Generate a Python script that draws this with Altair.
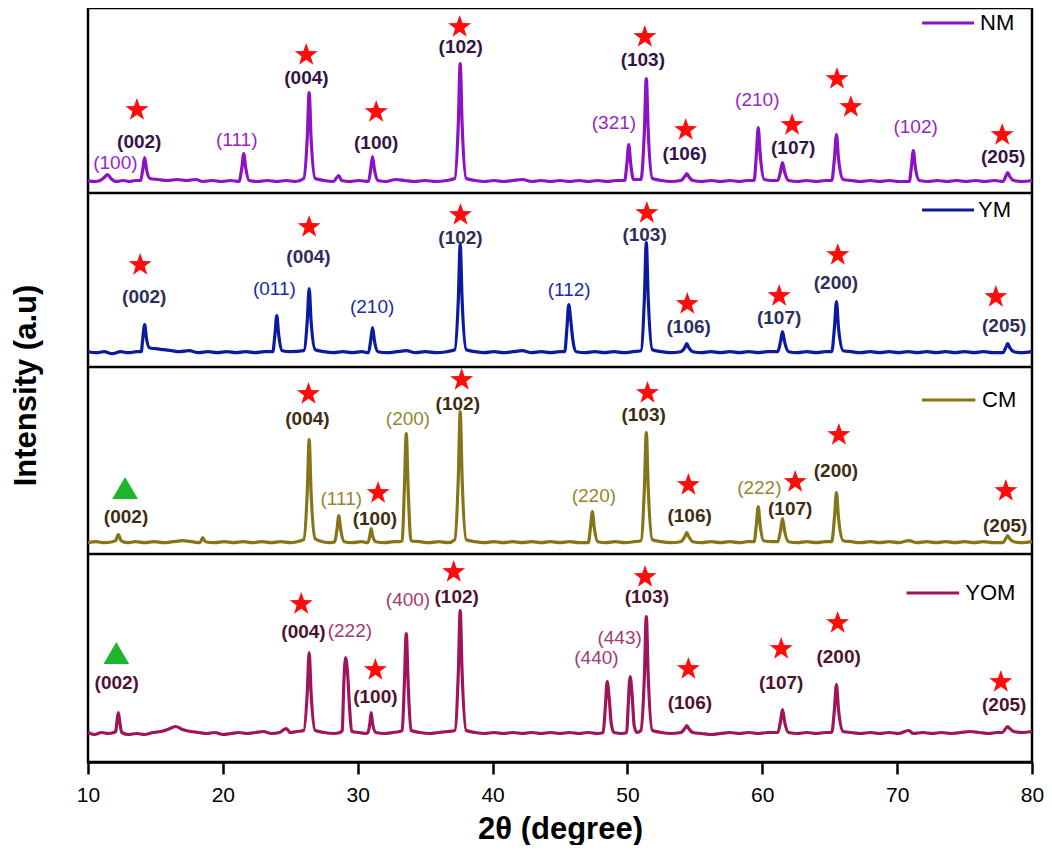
import altair as alt
import pandas as pd

# ---------------- data ----------------
SERIES = ["NM", "YM", "CM", "YOM"]

# vertical offset of each pattern (stacked plot)
OFFSET = {"NM": 580.5, "YM": 409.3, "CM": 219.3, "YOM": 28.5}

# (2theta, intensity a.u.) points of each XRD pattern
NM_PTS = [
    (10.0, 1), (10.5, 0), (10.9, 1), (11.2, 4), (11.45, 7), (11.7, 3), (12.1, 0), (12.6, 1), (13.1, 0), (13.5, 1),
    (13.9, 1), (14.06, 12), (14.2, 24), (14.34, 12), (14.6, 3), (15.2, 2), (15.9, 1), (16.6, 2), (17.3, 1), (18.0, 2),
    (18.5, 0), (19.2, 1), (19.9, 0), (20.6, 1),
    (21.2, 0), (21.41, 14), (21.55, 28), (21.69, 14), (21.95, 1), (22.6, 0), (23.3, 1), (24.0, 0), (24.7, 1), (25.4, 0),
    (26.0, 3), (26.26, 44), (26.4, 89), (26.54, 44), (26.85, 3), (27.5, 1), (28.2, 0), (28.45, 4), (28.6, 6), (28.8, 1),
    (29.4, 0), (30.1, 1),
    (30.8, 0), (30.96, 12), (31.1, 25), (31.24, 12), (31.5, 1), (32.1, 0), (32.8, 2), (33.5, 1), (34.2, 0), (35.0, 1),
    (35.8, 0), (36.6, 1),
    (37.2, 3), (37.46, 58), (37.6, 118), (37.74, 58), (38.05, 3), (38.7, 1), (39.4, 0), (40.1, 1), (40.8, 0), (41.5, 1),
    (42.2, 2), (42.9, 0), (43.6, 1), (44.3, 0), (45.0, 1), (45.7, 0), (46.4, 1), (47.1, 0), (47.8, 1), (48.5, 0), (49.2, 1),
    (49.8, 1), (49.96, 18), (50.1, 37), (50.24, 18), (50.45, 2),
    (51.0, 2), (51.26, 51), (51.4, 103), (51.54, 51), (51.85, 3), (52.5, 1), (53.2, 0),
    (53.95, 1), (54.25, 5), (54.4, 8), (54.55, 5), (54.85, 1), (55.5, 0), (56.2, 1), (56.9, 0), (57.6, 1), (58.3, 0), (58.9, 1),
    (59.4, 1), (59.56, 27), (59.7, 54), (59.84, 28), (60.15, 2), (60.7, 1),
    (61.15, 1), (61.35, 10), (61.5, 19), (61.65, 10), (61.95, 1), (62.6, 0), (63.3, 1), (64.0, 0), (64.7, 1),
    (65.15, 1), (65.35, 23), (65.5, 47), (65.65, 23), (66.0, 2), (66.6, 1), (67.3, 0), (68.0, 1), (68.7, 0), (69.4, 1), (70.1, 0),
    (70.9, 0), (71.06, 15), (71.2, 31), (71.34, 15), (71.65, 1), (72.3, 0), (73.0, 1), (73.7, 0), (74.4, 1), (75.1, 0),
    (75.8, 1), (76.5, 0), (77.2, 1),
    (77.85, 0), (78.05, 5), (78.2, 9), (78.35, 5), (78.65, 1), (79.3, 0), (80.0, 1),
]

YM_PTS = [
    (10.0, 1), (10.6, 0), (11.2, 1), (11.8, -1), (12.4, 1), (13.0, 0), (13.6, 1),
    (13.95, 1), (14.06, 14), (14.2, 28), (14.34, 14), (14.55, 5), (15.0, 4), (15.6, 3), (16.2, 2), (16.8, 1), (17.5, 2),
    (18.2, 0), (18.9, 1), (19.6, 0), (20.3, 1), (21.0, 0), (21.7, 1), (22.4, 0), (23.1, 1),
    (23.7, 1), (23.86, 18), (24.0, 37), (24.14, 18), (24.4, 2), (25.0, 1),
    (26.0, 2), (26.26, 32), (26.4, 64), (26.54, 32), (26.85, 3), (27.5, 1), (28.2, 0), (28.9, 1), (29.6, 0), (30.3, 1),
    (30.8, 0), (30.96, 12), (31.1, 25), (31.24, 12), (31.5, 1), (32.2, 0), (32.9, 1), (33.6, 2), (34.3, 0), (35.0, 1),
    (35.8, 0), (36.6, 1),
    (37.2, 3), (37.46, 53), (37.6, 108), (37.74, 53), (38.05, 3), (38.7, 1), (39.4, 0), (40.1, 1), (40.8, 0), (41.5, 1),
    (42.2, 2), (42.9, 0), (43.6, 1), (44.3, 0), (45.0, 1),
    (45.35, 1), (45.51, 24), (45.65, 48), (45.8, 32), (45.95, 13), (46.2, 1), (46.9, 0), (47.6, 1), (48.3, 0), (49.0, 1),
    (49.7, 0), (50.4, 1),
    (51.0, 2), (51.26, 55), (51.4, 110), (51.54, 55), (51.85, 3), (52.5, 1), (53.2, 0),
    (53.95, 1), (54.25, 5), (54.4, 9), (54.55, 5), (54.85, 1), (55.5, 0), (56.2, 1), (56.9, 0), (57.6, 1), (58.3, 0),
    (59.0, 1), (59.7, 0), (60.4, 1),
    (61.15, 1), (61.35, 11), (61.5, 21), (61.65, 11), (61.95, 1), (62.6, 0), (63.3, 1), (64.0, 0), (64.7, 1),
    (65.15, 1), (65.35, 25), (65.5, 51), (65.65, 25), (66.0, 2), (66.6, 1), (67.3, 0), (68.0, 1), (68.7, 0), (69.4, 1),
    (70.1, 0), (70.8, 1), (71.5, 0), (72.2, 1), (72.9, 0), (73.6, 1), (74.3, 0), (75.0, 1), (75.7, 0), (76.4, 1), (77.1, 0),
    (77.85, 0), (78.05, 5), (78.2, 9), (78.35, 5), (78.65, 1), (79.3, 0), (80.0, 1),
]

CM_PTS = [
    (10.0, 0), (10.6, 1), (11.2, 0), (11.8, 1), (12.05, 2), (12.25, 8), (12.45, 2), (12.9, 0), (13.5, 1), (14.2, 0),
    (14.9, 1), (15.6, 0), (16.3, 1), (17.0, 2), (17.7, 1), (18.3, 0), (18.5, 5), (18.7, 1), (19.4, 0), (20.1, 1),
    (20.8, 0), (21.5, 1), (22.2, 0), (22.9, 1), (23.6, 0), (24.3, 1), (25.0, 0), (25.5, 1),
    (26.0, 3), (26.26, 51), (26.4, 103), (26.54, 51), (26.85, 4), (27.4, 1), (28.0, 0),
    (28.3, 1), (28.46, 13), (28.6, 27), (28.74, 13), (29.0, 1), (29.6, 0), (30.3, 1),
    (30.75, 0), (30.9, 7), (31.0, 14), (31.1, 7), (31.35, 1), (32.0, 0), (32.7, 1), (33.1, 1),
    (33.3, 2), (33.46, 54), (33.6, 109), (33.74, 54), (33.95, 2), (34.6, 1), (35.3, 0), (36.0, 1), (36.7, 0),
    (37.2, 3), (37.46, 65), (37.6, 131), (37.74, 65), (38.05, 3), (38.7, 1), (39.4, 0), (40.1, 1), (40.8, 0), (41.5, 1),
    (42.2, 0), (42.9, 1), (43.6, 0), (44.3, 1), (45.0, 0), (45.7, 1), (46.4, 0),
    (47.1, 0), (47.26, 15), (47.4, 31), (47.54, 15), (47.8, 1), (48.4, 0), (49.1, 1), (49.8, 0), (50.5, 1),
    (51.0, 2), (51.26, 55), (51.4, 110), (51.54, 55), (51.85, 3), (52.5, 1), (53.2, 0),
    (53.95, 1), (54.25, 6), (54.4, 10), (54.55, 6), (54.85, 1), (55.5, 0), (56.2, 1), (56.9, 0), (57.6, 1), (58.3, 0), (58.9, 1),
    (59.4, 1), (59.56, 18), (59.7, 36), (59.84, 18), (60.1, 2), (60.7, 1),
    (61.15, 1), (61.35, 12), (61.5, 24), (61.65, 12), (61.95, 1), (62.6, 0), (63.3, 1), (64.0, 0), (64.7, 1),
    (65.15, 1), (65.35, 25), (65.5, 50), (65.65, 25), (66.0, 2), (66.6, 1), (67.3, 0), (68.0, 1), (68.7, 0), (69.4, 1),
    (70.1, 0), (70.85, 2), (71.5, 0), (72.2, 1), (72.9, 0), (73.6, 1), (74.3, 0), (75.0, 1), (75.7, 0), (76.4, 1), (77.1, 0),
    (77.85, 0), (78.05, 4), (78.2, 7), (78.35, 4), (78.65, 1), (79.3, 0), (80.0, 1),
]

YOM_PTS = [
    (10.0, 1), (10.5, -1), (11.0, 1), (11.5, 0), (11.9, 1),
    (12.05, 2), (12.15, 12), (12.25, 21), (12.35, 12), (12.5, 1), (13.0, -1), (13.6, 0), (14.2, -1), (14.8, 1),
    (15.4, 2), (15.9, 4), (16.5, 7), (17.0, 4), (17.6, 2), (18.2, 1), (18.8, 0), (19.4, 1), (20.0, -1), (20.6, 0),
    (21.2, 1), (21.8, 0), (22.4, 1), (23.0, 2), (23.6, 0), (24.2, 1), (24.7, 5), (25.0, 1), (25.5, 2),
    (26.0, 3), (26.26, 41), (26.4, 81), (26.54, 41), (26.85, 3), (27.5, 1), (28.2, 0), (28.7, 1),
    (28.85, 3), (28.97, 50), (29.1, 76), (29.25, 60), (29.4, 25), (29.55, 2), (30.1, 1), (30.6, 0),
    (30.75, 1), (30.9, 10), (31.0, 21), (31.1, 10), (31.35, 1), (32.0, 0), (32.6, 1), (33.1, 2),
    (33.3, 3), (33.46, 50), (33.6, 100), (33.74, 50), (33.95, 3), (34.6, 1), (35.3, 0), (36.0, 1), (36.7, 2),
    (37.2, 3), (37.46, 61), (37.6, 123), (37.74, 61), (38.05, 3), (38.7, 1), (39.4, 0), (40.1, 1), (40.8, 0), (41.5, 1),
    (42.2, 0), (42.9, 1), (43.6, 0), (44.3, 1), (45.0, 0), (45.7, 1), (46.4, 0), (47.1, 1), (47.8, 0),
    (48.2, 1), (48.36, 26), (48.5, 52), (48.65, 35), (48.8, 10), (49.0, 1), (49.6, 0), (49.95, 1),
    (50.05, 26), (50.2, 57), (50.35, 38), (50.5, 8), (50.7, 1),
    (51.0, 3), (51.26, 58), (51.4, 117), (51.54, 58), (51.85, 3), (52.5, 1), (53.2, 0),
    (53.95, 1), (54.25, 5), (54.4, 8), (54.55, 5), (54.85, 1), (55.5, 0), (56.2, -1), (56.9, 0), (57.6, 1), (58.3, 0),
    (59.0, 1), (59.7, 0), (60.4, 1),
    (61.15, 1), (61.35, 12), (61.5, 24), (61.65, 12), (61.95, 1), (62.6, 0), (63.3, 1), (64.0, 0), (64.7, 1),
    (65.15, 1), (65.35, 24), (65.5, 49), (65.65, 24), (66.0, 2), (66.6, 1), (67.3, 0), (68.0, 1), (68.7, 0), (69.4, 1),
    (70.1, 0), (70.85, 3), (71.2, 0), (71.9, 1), (72.6, 0), (73.3, 1), (74.0, 0), (74.7, 1), (75.4, 2), (76.1, 1),
    (76.8, 0), (77.4, 1),
    (77.8, 1), (78.05, 5), (78.2, 7), (78.35, 5), (78.65, 2), (79.3, 1), (80.0, 2),
]

# Miller-index labels: (text, 2theta, height, kind)  kind: "b" = phase label (bold), "n" = other phase
NM_LABELS = [
    ("(100)", 12.03, 599, "n"), ("(002)", 13.80, 620, "b"), ("(111)", 21.03, 622, "n"), ("(004)", 26.20, 684, "b"),
    ("(100)", 31.37, 619, "b"), ("(102)", 37.64, 715, "b"), ("(321)", 49.0, 639, "n"), ("(103)", 51.14, 702, "b"),
    ("(106)", 54.24, 608, "b"), ("(210)", 59.63, 662, "n"), ("(107)", 62.29, 614, "b"), ("(102)", 71.37, 635, "n"),
    ("(205)", 77.86, 605, "b"),
]
YM_LABELS = [
    ("(002)", 14.17, 465, "b"), ("(011)", 23.82, 473, "n"), ("(004)", 26.35, 505, "b"), ("(210)", 31.07, 455, "n"),
    ("(102)", 37.62, 524, "b"), ("(112)", 45.68, 472, "n"), ("(103)", 51.27, 527, "b"), ("(106)", 54.54, 435, "b"),
    ("(107)", 61.25, 444, "b"), ("(200)", 65.46, 479, "b"), ("(205)", 77.94, 436, "b"),
]
CM_LABELS = [
    ("(002)", 12.82, 245, "b"), ("(004)", 26.27, 343, "b"), ("(111)", 28.78, 263, "n"), ("(100)", 31.27, 243, "b"),
    ("(200)", 33.73, 343, "n"), ("(102)", 37.42, 358, "b"), ("(220)", 47.51, 266, "n"), ("(103)", 51.20, 347, "b"),
    ("(106)", 54.61, 246, "b"), ("(222)", 59.78, 274, "n"), ("(107)", 62.07, 253, "b"), ("(200)", 65.46, 291, "b"),
    ("(205)", 78.01, 236, "b"),
]
YOM_LABELS = [
    ("(002)", 12.13, 79, "b"), ("(004)", 25.98, 130, "b"), ("(222)", 29.42, 131, "n"), ("(100)", 31.31, 65, "b"),
    ("(400)", 33.73, 162, "n"), ("(102)", 37.34, 165, "b"), ("(440)", 47.70, 104, "n"), ("(443)", 49.42, 124, "n"),
    ("(103)", 51.44, 165, "b"), ("(106)", 54.63, 59, "b"), ("(107)", 61.40, 79, "b"), ("(200)", 65.66, 105, "b"),
    ("(205)", 77.94, 57, "b"),
]

# phase markers: (2theta, height, kind)  kind: "star" or "tri"
MARKERS = [
    (13.63, 652, "star"), (26.18, 707, "star"), (31.37, 650, "star"), (37.56, 735, "star"), (51.29, 725, "star"),
    (54.32, 632, "star"), (62.21, 637, "star"), (65.54, 683, "star"), (66.57, 655, "star"), (77.79, 627, "star"),
    (13.87, 497, "star"), (26.40, 535, "star"), (37.62, 547, "star"), (51.44, 549, "star"), (54.44, 458, "star"),
    (61.25, 466, "star"), (65.60, 507, "star"), (77.32, 465, "star"),
    (12.75, 274, "tri"), (26.35, 368, "star"), (31.51, 269, "star"), (37.71, 382, "star"), (51.49, 369, "star"),
    (54.52, 277, "star"), (62.44, 280, "star"), (65.68, 327, "star"), (78.06, 271, "star"),
    (12.10, 109, "tri"), (25.81, 158, "star"), (31.31, 92, "star"), (37.12, 190, "star"), (51.31, 185, "star"),
    (54.52, 93, "star"), (61.40, 113, "star"), (65.59, 139, "star"), (77.69, 80, "star"),
]

# in-panel legend entries: (name, line start, line end, text start, height)
LEGEND = [
    ("NM", 71.85, 75.7, 76.15, 739),
    ("YM", 71.85, 75.7, 76.0, 552),
    ("CM", 71.85, 75.8, 76.3, 362),
    ("YOM", 70.7, 74.6, 75.05, 169),
]

PANEL_SEPARATORS = [569, 395, 208]

# ---------------- styles ----------------
LINE_COLOR = {"NM": "#8c12c4", "YM": "#0b1a9e", "CM": "#857418", "YOM": "#a0155a"}
NORMAL_COLOR = {"NM": "#9427c8", "YM": "#1a2aa8", "CM": "#958532", "YOM": "#a23a72"}
BOLD_COLOR = {"NM": "#341447", "YM": "#2e2e5c", "CM": "#3f2d12", "YOM": "#4f1232"}
FONT = "Liberation Sans"
STAR = ("M0,-1L0.235,-0.324L0.951,-0.309L0.38,0.124L0.588,0.809L0,0.4"
        "L-0.588,0.809L-0.38,0.124L-0.951,-0.309L-0.235,-0.324Z")

# ---------------- tables ----------------
pts = {"NM": NM_PTS, "YM": YM_PTS, "CM": CM_PTS, "YOM": YOM_PTS}
rows = []
for s in SERIES:
    for i, (t, v) in enumerate(pts[s]):
        rows.append({"series": s, "order": i, "t": t, "Y": v + OFFSET[s]})
lines_df = pd.DataFrame(rows)

labs = {"NM": NM_LABELS, "YM": YM_LABELS, "CM": CM_LABELS, "YOM": YOM_LABELS}
lrows = []
for s in SERIES:
    for (txt, t, y, k) in labs[s]:
        lrows.append({"txt": txt, "t": t, "Y": y, "kind": k,
                      "col": BOLD_COLOR[s] if k == "b" else NORMAL_COLOR[s]})
labels_df = pd.DataFrame(lrows)
bold_df = labels_df[labels_df.kind == "b"]
norm_df = labels_df[labels_df.kind == "n"]

mk_df = pd.DataFrame(MARKERS, columns=["t", "Y", "kind"])
star_df = mk_df[mk_df.kind == "star"]
tri_df = mk_df[mk_df.kind == "tri"]

leg_df = pd.DataFrame(LEGEND, columns=["series", "t", "t2", "tt", "Y"])
leg_df["col"] = leg_df.series.map(LINE_COLOR)
sep_df = pd.DataFrame({"Y": PANEL_SEPARATORS})

# ---------------- encodings ----------------
X = alt.X("t:Q", scale=alt.Scale(domain=[10, 80], nice=False, zero=False),
          axis=alt.Axis(title="2θ (degree)", values=[10, 20, 30, 40, 50, 60, 70, 80],
                        grid=False, tickSize=12, tickWidth=2.5, tickColor="black",
                        domainWidth=2.5, domainColor="black",
                        labelFont=FONT, labelFontSize=21, labelColor="black", labelPadding=10,
                        labelFlush=False,
                        titleFont=FONT, titleFontSize=31, titleFontWeight="bold", titleColor="black",
                        titlePadding=9))
Y = alt.Y("Y:Q", scale=alt.Scale(domain=[0, 754], nice=False, zero=False),
          axis=alt.Axis(title="Intensity (a.u)", labels=False, ticks=False, domain=False, grid=False,
                        titleFont=FONT, titleFontSize=31, titleFontWeight="bold", titleColor="black",
                        titlePadding=46))

lines = alt.Chart(lines_df).mark_line(strokeWidth=3.2, interpolate="monotone", clip=True,
                                      strokeJoin="round").encode(
    x=X, y=Y,
    color=alt.Color("series:N", scale=alt.Scale(domain=SERIES, range=[LINE_COLOR[s] for s in SERIES]),
                    legend=None),
    order="order:Q",
)

seps = alt.Chart(sep_df).mark_rule(color="black", strokeWidth=2.5).encode(y=Y)

stars = alt.Chart(star_df).mark_point(shape=STAR, filled=True, size=585, color="#ff0d0d",
                                      opacity=1, strokeWidth=0).encode(x=X, y=Y)
tris = alt.Chart(tri_df).mark_point(shape="triangle-up", filled=True, size=660, color="#1db52b",
                                    opacity=1, strokeWidth=0).encode(x=X, y=Y)

bold_txt = alt.Chart(bold_df).mark_text(font=FONT, fontSize=19, fontWeight="bold",
                                        align="center", baseline="middle").encode(
    x=X, y=Y, text="txt:N", color=alt.Color("col:N", scale=None))
norm_txt = alt.Chart(norm_df).mark_text(font=FONT, fontSize=19, fontWeight="normal",
                                        align="center", baseline="middle").encode(
    x=X, y=Y, text="txt:N", color=alt.Color("col:N", scale=None))

leg_lines = alt.Chart(leg_df).mark_rule(strokeWidth=3).encode(
    x=X, x2="t2:Q", y=Y, color=alt.Color("col:N", scale=None))
leg_txt = alt.Chart(leg_df).mark_text(font=FONT, fontSize=22, align="left", baseline="middle",
                                      color="black").encode(
    x=alt.X("tt:Q", scale=alt.Scale(domain=[10, 80], nice=False, zero=False)), y=Y, text="series:N")

chart = alt.layer(lines, seps, stars, tris, bold_txt, norm_txt, leg_lines, leg_txt).properties(
    width=944, height=754,
    autosize=alt.AutoSizeParams(type="none"),
    padding={"left": 80, "top": 0, "right": 12, "bottom": 83},
    background="white",
).configure_view(stroke="black", strokeWidth=2.5)

chart.save("out.html", embed_options={"renderer": "svg", "actions": False})
